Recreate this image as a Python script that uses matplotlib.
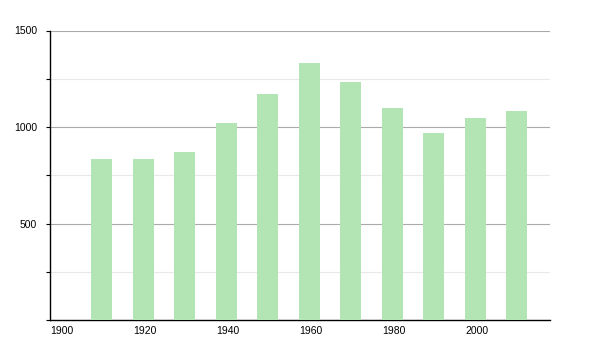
import matplotlib
matplotlib.use("Agg")
import matplotlib.pyplot as plt
from matplotlib.ticker import MultipleLocator

years = [1910, 1920, 1930, 1940, 1950, 1960, 1970, 1980, 1990, 2000, 2010]
population = [834, 834, 872, 1019, 1171, 1330, 1234, 1098, 969, 1047, 1083]
xticks = [1900, 1920, 1940, 1960, 1980, 2000]
yticks = [500, 1000, 1500]

plt.rcParams['font.family'] = ['Liberation Sans', 'DejaVu Sans']

fig = plt.figure(figsize=(6, 3.5), dpi=100)
ax = fig.add_axes([50/600, 30/350, 500/600, 289.5/350])

ax.bar(years, population, width=5, align='edge', color='#b3e4b3', edgecolor='none', zorder=3)

ax.set_xlim(1900, 2020.5)
ax.set_ylim(0, 1500)

ax.set_yticks(yticks)
ax.set_yticklabels([str(v) for v in yticks], fontsize=7.5)
ax.yaxis.set_minor_locator(MultipleLocator(250))
ax.grid(axis='y', which='major', color='#aaaaaa', linewidth=0.8, zorder=0)
ax.grid(axis='y', which='minor', color='#e8e8e8', linewidth=0.8, zorder=0)
ax.tick_params(axis='y', which='major', length=3, width=0.8, pad=6.3, colors='black')
ax.tick_params(axis='y', which='minor', length=3, width=0.8, color='black')

ax.set_xticks(xticks)
ax.set_xticklabels([str(v) for v in xticks], fontsize=7.5, ha='left')
ax.tick_params(axis='x', length=0, pad=4)

for s in ['top', 'right']:
    ax.spines[s].set_visible(False)
for s in ['left', 'bottom']:
    ax.spines[s].set_color('black')
    ax.spines[s].set_linewidth(1)

fig.savefig('out.png', dpi=100)
